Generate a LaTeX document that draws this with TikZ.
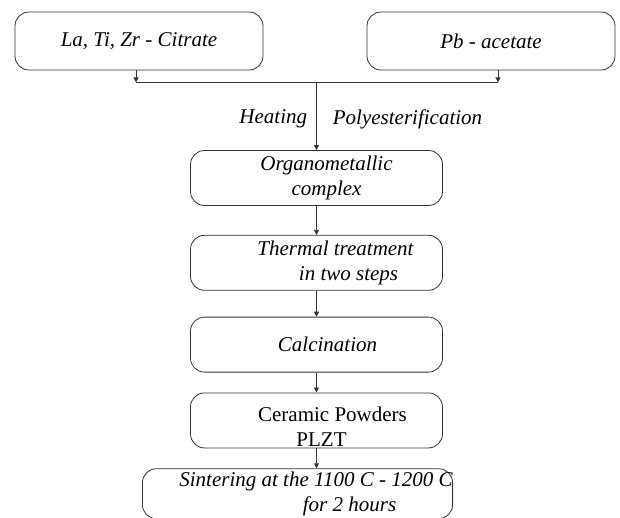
\documentclass[tikz,border=0pt]{standalone}
\usepackage{fontspec}
\setmainfont{Liberation Serif}
\usepackage{tikz}
\usetikzlibrary{arrows.meta,positioning,calc}

\begin{document}
\begin{tikzpicture}[
  x=1pt, y=1pt,
  node distance=20pt,
  box/.style={rectangle, draw=black!80, line width=0.8pt, rounded corners=14pt,
              minimum width=252pt, minimum height=55pt, inner sep=0pt,
              align=center, font=\fontsize{21}{25.5}\selectfont\itshape},
  srcbox/.style={box, minimum width=248pt, minimum height=58pt},
  arr/.style={-{Triangle[width=5pt,length=5pt]}, line width=0.7pt, black!80},
  lin/.style={line width=0.7pt, black!80},
  note/.style={font=\fontsize{21}{25}\selectfont\itshape, inner sep=0pt, text=black}
]
\useasboundingbox (0,0) rectangle (620,-517);

\node[srcbox] (cit) at (139,-41) {La, Ti, Zr - Citrate};
\node[srcbox] (pb)  at (491,-41) {Pb - acetate};

\node[box] (org) at (316.5,-178) {\hspace*{20pt}Organometallic\\\hspace*{20pt}complex};
\node[box, below=29pt of org] (thr) {\hspace*{38pt}Thermal treatment\\\hspace*{64pt}in two steps};
\node[box, below=26pt of thr] (clc) {\hspace*{22pt}Calcination};
\node[box, below=of clc, font=\fontsize{21}{25.5}\selectfont\upshape] (cer) {\rule{0pt}{27pt}\hspace*{32pt}Ceramic Powders\\\hspace*{10pt}PLZT};
\node[box, below=of cer, xshift=-19pt, minimum width=301pt, minimum height=50pt] (sin) {\hspace*{37pt}Sintering at the 1100 C - 1200 C\\\hspace*{104pt}for 2 hours};

% joining the two precursors
\coordinate (jl) at ($(cit.south)+(-3,-12)$);
\coordinate (jr) at ($(pb.south)+(7,-12)$);
\coordinate (jm) at (jl -| org.north);
\draw[arr] (jl |- cit.south) -- (jl);
\draw[arr] (jr |- pb.south) -- (jr);
\draw[lin] (jl) -- (jr);
\draw[arr] (jm) -- (org.north)
  node[note, pos=.5, left=9pt, yshift=-3pt] (heat) {Heating}
  node[note, pos=.5, right=16pt, yshift=-3pt] (poly) {Polyesterification};

\draw[arr] (org) -- (thr);
\draw[arr] (thr) -- (clc);
\draw[arr] (clc) -- (cer);
\draw[arr] (cer.south) -- (cer.south |- sin.north);
\end{tikzpicture}
\end{document}
